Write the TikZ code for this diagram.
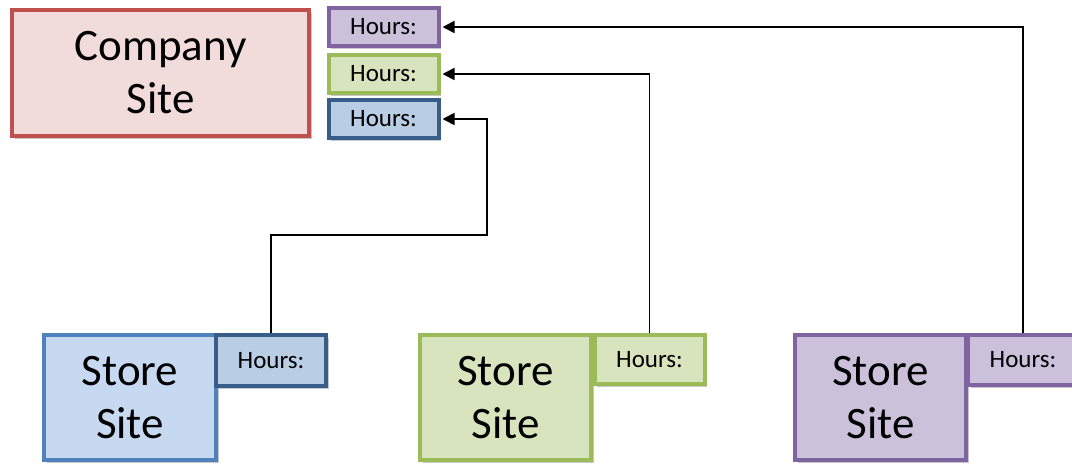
\documentclass[tikz,border=0pt]{standalone}
\usepackage{fontspec}
\setmainfont{Carlito}
\usetikzlibrary{shadows,arrows.meta}
\definecolor{redB}{HTML}{C0504D}\definecolor{redF}{HTML}{F2DCDB}
\definecolor{blueB}{HTML}{4F81BD}\definecolor{blueF}{HTML}{C6D9F1}
\definecolor{blueHB}{HTML}{385D8A}\definecolor{blueHF}{HTML}{B9CDE5}
\definecolor{greenB}{HTML}{9BBB59}\definecolor{greenF}{HTML}{D7E4BD}
\definecolor{purpB}{HTML}{8064A2}\definecolor{purpF}{HTML}{CCC1DA}
\tikzset{
  box/.style={draw, line width=4pt, rectangle, inner sep=0pt, align=center,
    drop shadow={shadow xshift=2.5pt, shadow yshift=-3pt, opacity=0.22, fill=black}},
  big/.style={box, font=\fontsize{45}{53}\selectfont},
  hrs/.style={box, font=\fontsize{25}{30}\selectfont, minimum width=110pt},
  arr/.style={line width=1.8pt, shorten >=2pt, -{Triangle[length=12pt,width=12pt]}},
}
\begin{document}
\begin{tikzpicture}[x=1pt,y=-1pt]
\useasboundingbox (0,0) rectangle (1072,465);
% company
\node[big, fill=redF, draw=redB, minimum width=297pt, minimum height=126pt] (cs) at (160.5,73) {Company\\Site};
\node[hrs, fill=purpF, draw=purpB, minimum height=38pt] (tp) at (383.5,27) {Hours:};
\node[hrs, fill=greenF, draw=greenB, minimum height=38pt] (tg) at (383.5,74) {Hours:};
\node[hrs, fill=blueHF, draw=blueHB, minimum height=38pt] (tb) at (383.5,119) {Hours:};
% stores
\node[big, fill=blueF, draw=blueB, minimum width=172pt, minimum height=125pt] (sb) at (130,397.5) {Store\\Site};
\node[hrs, fill=blueHF, draw=blueHB, minimum height=51pt] (hb) at (271,360.5) {Hours:};
\node[big, fill=greenF, draw=greenB, minimum width=171pt, minimum height=125pt] (sg) at (505.5,397.5) {Store\\Site};
\node[hrs, fill=greenF, draw=greenB, minimum height=49pt] (hg) at (649.5,359.5) {Hours:};
\node[big, fill=purpF, draw=purpB, minimum width=171pt, minimum height=125pt] (sp) at (880.5,397.5) {Store\\Site};
\node[hrs, fill=purpF, draw=purpB, minimum height=50pt] (hp) at (1023,360) {Hours:};
% connectors
\coordinate (b1) at (271,235);
\coordinate (b2) at (487,235);
\draw[arr] (hb.north) -- (b1) -- (b2) |- (tb.east);
\draw[arr] (hg.north) |- (tg.east);
\draw[arr] (hp.north) |- (tp.east);
\end{tikzpicture}
\end{document}
